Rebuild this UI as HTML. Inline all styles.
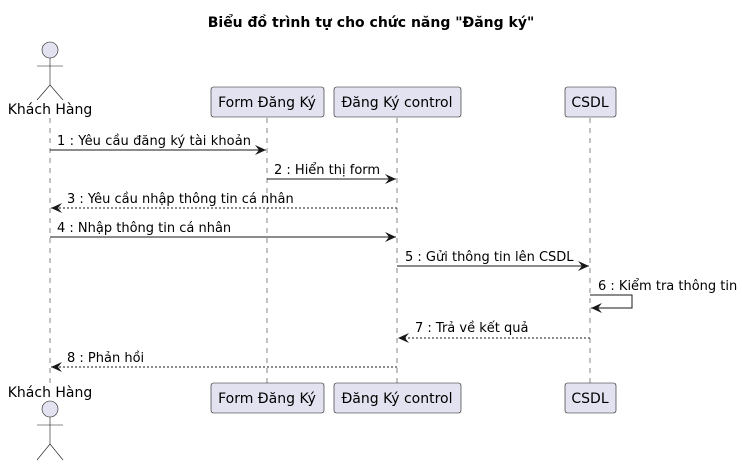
<!DOCTYPE html>
<html><head><meta charset="utf-8"><style>
html,body{margin:0;padding:0;background:#fff}
svg text{font-family:"DejaVu Sans","Liberation Sans",sans-serif;font-size:13px;fill:#000}
svg text.p{font-size:14px}
</style></head><body>
<svg width="742" height="464" xmlns="http://www.w3.org/2000/svg">
<defs>
<marker id="a" markerWidth="12" markerHeight="10" refX="11" refY="5" orient="auto" markerUnits="userSpaceOnUse">
<path d="M0,0 L11,5 L0,10 L4,5 Z" fill="#181818"/></marker>
</defs>
<text x="371" y="27" text-anchor="middle" style="font-weight:bold;font-size:14px">Biểu đồ trình tự cho chức năng "Đăng ký"</text>
<g stroke="#555" stroke-width="0.7" stroke-dasharray="5,5">
<line x1="50" y1="118" x2="50" y2="383"/>
<line x1="267" y1="118" x2="267" y2="383"/>
<line x1="397" y1="118" x2="397" y2="383"/>
<line x1="590" y1="118" x2="590" y2="383"/>
</g>
<g fill="#E2E2F0" stroke="#181818" stroke-width="0.6">
<circle cx="50" cy="50" r="8"/>
<circle cx="50" cy="409" r="8"/>
<rect x="211" y="87" width="113" height="30" rx="2.5"/>
<rect x="334" y="87" width="127" height="30" rx="2.5"/>
<rect x="565" y="87" width="51" height="30" rx="2.5"/>
<rect x="211" y="383" width="113" height="30" rx="2.5"/>
<rect x="334" y="383" width="127" height="30" rx="2.5"/>
<rect x="565" y="383" width="51" height="30" rx="2.5"/>
</g>
<g stroke="#181818" stroke-width="0.6" fill="none">
<path d="M50,58 V85 M37,66 H63 M37,100 L50,85 L63,100"/>
<path d="M50,417 V444 M37,425 H63 M37,460 L50,444 L63,460"/>
</g>
<text class="p" x="50" y="114" text-anchor="middle">Khách Hàng</text>
<text class="p" x="50" y="397" text-anchor="middle">Khách Hàng</text>
<text class="p" x="267" y="107" text-anchor="middle">Form Đăng Ký</text>
<text class="p" x="397" y="107" text-anchor="middle">Đăng Ký control</text>
<text class="p" x="590" y="107" text-anchor="middle">CSDL</text>
<text class="p" x="267" y="403" text-anchor="middle">Form Đăng Ký</text>
<text class="p" x="397" y="403" text-anchor="middle">Đăng Ký control</text>
<text class="p" x="590" y="403" text-anchor="middle">CSDL</text>
<g stroke="#181818" stroke-width="1" fill="none" marker-end="url(#a)">
<line x1="50" y1="150" x2="266" y2="150"/>
<line x1="267" y1="179" x2="396" y2="179"/>
<line x1="397" y1="208" x2="51" y2="208" stroke-dasharray="2,2"/>
<line x1="50" y1="237" x2="396" y2="237"/>
<line x1="397" y1="266" x2="589" y2="266"/>
<path d="M590,295 H632 V308 H591"/>
<line x1="590" y1="338" x2="398" y2="338" stroke-dasharray="2,2"/>
<line x1="397" y1="367" x2="51" y2="367" stroke-dasharray="2,2"/>
</g>
<text x="57" y="145" textLength="194">1 : Yêu cầu đăng ký tài khoản</text>
<text x="274" y="174">2 : Hiển thị form</text>
<text x="67" y="203">3 : Yêu cầu nhập thông tin cá nhân</text>
<text x="57" y="232">4 : Nhập thông tin cá nhân</text>
<text x="405" y="261">5 : Gửi thông tin lên CSDL</text>
<text x="598" y="290">6 : Kiểm tra thông tin</text>
<text x="415" y="332">7 : Trả về kết quả</text>
<text x="67" y="362">8 : Phản hồi</text>
</svg>
</body></html>
